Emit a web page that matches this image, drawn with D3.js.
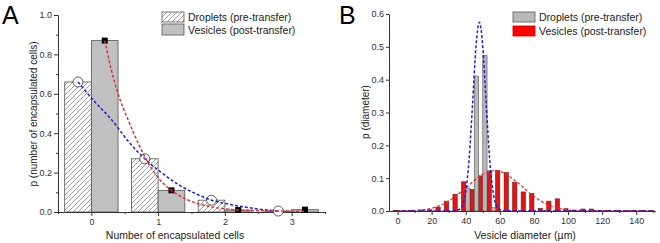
<!doctype html>
<html lang="en">
<head>
<meta charset="utf-8">
<title>encapsulation distributions</title>
<script src="https://cdn.jsdelivr.net/npm/d3@7/dist/d3.min.js"></script>
<style>
  body { margin: 0; background: #fff; }
  svg { font-family: "Liberation Sans", Arial, sans-serif; }
  .axis path, .axis line { stroke: #333; }
  .axis text { fill: #333; font-size: 9px; }
</style>
</head>
<body>
<svg></svg>
<script>
// ---- panel A data ----
var cells = [0, 1, 2, 3];
var dropletsA = [0.66, 0.27, 0.06, 0.005];
var vesiclesA = [0.87, 0.11, 0.01, 0.012];
// fitted curves
var blueFitAx = [-0.2, 0.05, 0.3, 0.55, 0.8, 1.05, 1.3, 1.55, 1.8, 2.05, 2.3, 2.55, 2.8];
var blueFitAy = [0.66, 0.56, 0.47, 0.36, 0.27, 0.2, 0.14, 0.095, 0.06, 0.04, 0.025, 0.013, 0.005];
var redFitAx = [0.2, 0.3, 0.4, 0.56, 0.7, 0.85, 1.0, 1.2, 1.4, 1.6, 1.8, 2.0, 2.2, 2.6, 3.2];
var redFitAy = [0.87, 0.72, 0.6, 0.46, 0.35, 0.25, 0.175, 0.11, 0.068, 0.042, 0.026, 0.016, 0.01, 0.006, 0.004];

// ---- panel B data ----
var diam = [0, 5, 10, 15, 20, 25, 30, 35, 40, 45, 50, 55, 60, 65, 70, 75, 80, 85, 90, 95,
            100, 105, 110, 115, 120, 125, 130, 135, 140, 145, 150];
var vesiclesB = [0.002, 0.002, 0.002, 0.003, 0.004, 0.012, 0.03, 0.051, 0.089, 0.066, 0.107, 0.122, 0.123, 0.117, 0.087,
                 0.058, 0.053, 0.008, 0.03, 0.037, 0.007, 0.003, 0.006, 0.006, 0.002, 0.002, 0.002, 0.002, 0.002, 0.002, 0.002];
var dropletsB = [0, 0, 0, 0, 0, 0, 0, 0, 0.07, 0.411, 0.473, 0.01, 0, 0, 0,
                 0, 0, 0, 0, 0, 0, 0, 0, 0, 0, 0, 0, 0, 0, 0, 0];
var blueFitBx = [0, 20, 30, 34, 36, 38, 40, 42, 44, 46, 48, 50, 52, 54, 56, 58, 60, 62, 70, 100, 150];
var blueFitBy = [0, 0, 0, 0.001, 0.004, 0.016, 0.059, 0.16, 0.325, 0.5, 0.575, 0.5, 0.325, 0.16, 0.059, 0.016, 0.004, 0.001, 0, 0, 0];
var redFitBx = [0, 10, 20, 30, 40, 50, 57, 60, 70, 80, 90, 100, 110, 120, 130, 150];
var redFitBy = [0.0002, 0.0017, 0.0085, 0.03, 0.07, 0.112, 0.123, 0.121, 0.088, 0.044, 0.015, 0.003, 0.0005, 0, 0, 0];

var legendLabels = ["Droplets (pre-transfer)", "Vesicles (post-transfer)"];

var width = 660, height = 243;
var svg = d3.select('svg').attr('width', width).attr('height', height);

// hatch pattern for droplet bars
svg.append('defs').append('pattern')
    .attr('id', 'hatch')
    .attr('patternUnits', 'userSpaceOnUse')
    .attr('width', 5).attr('height', 5)
    .append('path')
    .attr('d', 'M-1,1 l2,-2 M0,5 l5,-5 M4,6 l2,-2')
    .attr('stroke', '#777').attr('stroke-width', 0.7);

// =================== panel A ===================
var xA = d3.scaleLinear().domain([-0.5, 3.5]).range([58, 325]);
var yA = d3.scaleLinear().domain([0, 1]).range([212, 15]);
var gA = svg.append('g');

gA.selectAll('rect.drop').data(cells).enter().append('rect')
    .attr('x', function (d) { return xA(d - 0.4); })
    .attr('y', function (d, i) { return yA(dropletsA[i]); })
    .attr('width', xA(0.4) - xA(0))
    .attr('height', function (d, i) { return yA(0) - yA(dropletsA[i]); })
    .attr('fill', 'url(#hatch)').attr('stroke', '#555').attr('stroke-width', 0.8);

gA.selectAll('rect.ves').data(cells).enter().append('rect')
    .attr('x', function (d) { return xA(d); })
    .attr('y', function (d, i) { return yA(vesiclesA[i]); })
    .attr('width', xA(0.4) - xA(0))
    .attr('height', function (d, i) { return yA(0) - yA(vesiclesA[i]); })
    .attr('fill', '#c0c0c0').attr('stroke', '#555').attr('stroke-width', 0.8);

// axes A
gA.append('g').attr('class', 'axis').attr('transform', 'translate(0,' + yA(0) + ')')
    .call(d3.axisBottom(xA).tickValues([-0.5, 0.5, 1.5, 2.5, 3.5]).tickSize(2).tickSizeOuter(0).tickFormat(''));
gA.append('g').attr('class', 'axis').attr('transform', 'translate(0,' + yA(0) + ')')
    .call(d3.axisBottom(xA).tickValues(cells).tickSize(4).tickSizeOuter(0).tickPadding(3).tickFormat(d3.format('d')));
gA.append('g').attr('class', 'axis').attr('transform', 'translate(' + xA(-0.5) + ',0)')
    .call(d3.axisLeft(yA).tickValues([0.1, 0.3, 0.5, 0.7, 0.9]).tickSize(2).tickSizeOuter(0).tickFormat(''));
gA.append('g').attr('class', 'axis').attr('transform', 'translate(' + xA(-0.5) + ',0)')
    .call(d3.axisLeft(yA).ticks(5).tickSize(4).tickSizeOuter(0).tickPadding(2).tickFormat(d3.format('.1f')));

// markers A
gA.selectAll('circle.drop').data(cells).enter().append('circle')
    .attr('cx', function (d) { return xA(d - 0.2); })
    .attr('cy', function (d, i) { return yA(dropletsA[i]); })
    .attr('r', 5).attr('fill', '#fff').attr('stroke', '#333').attr('stroke-width', 0.8);
gA.selectAll('rect.sq').data(cells).enter().append('rect')
    .attr('x', function (d) { return xA(d + 0.2) - 3; })
    .attr('y', function (d, i) { return yA(vesiclesA[i]) - 3; })
    .attr('width', 6).attr('height', 6).attr('fill', '#000');

// fitted curves A
var lineA = d3.line().x(function (d) { return xA(d[0]); }).y(function (d) { return yA(d[1]); })
    .curve(d3.curveMonotoneX);
gA.append('path').datum(d3.zip(blueFitAx, blueFitAy)).attr('d', lineA)
    .attr('fill', 'none').attr('stroke', '#2020d8').attr('stroke-width', 1.5).attr('stroke-dasharray', '3,2');
gA.append('path').datum(d3.zip(redFitAx, redFitAy)).attr('d', lineA)
    .attr('fill', 'none').attr('stroke', '#e53030').attr('stroke-width', 1.5).attr('stroke-dasharray', '3,2');

// labels A
gA.append('text').attr('x', 2).attr('y', 24).attr('font-size', 25).text('A');
gA.append('text').attr('transform', 'translate(37,114) rotate(-90)')
    .attr('text-anchor', 'middle').attr('font-size', 10).attr('fill', '#222')
    .text('p (number of encapsulated cells)');
gA.append('text').attr('x', 175).attr('y', 239).attr('text-anchor', 'middle')
    .attr('font-size', 10.5).attr('fill', '#222').text('Number of encapsulated cells');

// legend A
var legA = gA.append('g').attr('transform', 'translate(162,12)');
legA.append('rect').attr('width', 22).attr('height', 10).attr('fill', 'url(#hatch)').attr('stroke', '#555').attr('stroke-width', 0.8);
legA.append('rect').attr('y', 12).attr('width', 22).attr('height', 11).attr('fill', '#c0c0c0').attr('stroke', '#555').attr('stroke-width', 0.8);
legA.selectAll('text').data(legendLabels).enter().append('text')
    .attr('x', 26).attr('y', function (d, i) { return 9 + i * 13; })
    .attr('font-size', 10.5).attr('fill', '#222').text(function (d) { return d; });

// =================== panel B ===================
var xB = d3.scaleLinear().domain([-5, 151]).range([389, 655]);
var yB = d3.scaleLinear().domain([0, 0.6]).range([211, 14]);
var gB = svg.append('g');
var bw = xB(2.5) - xB(0);

gB.selectAll('rect.ves').data(diam).enter().append('rect')
    .attr('x', function (d) { return xB(d - 2.5); })
    .attr('y', function (d, i) { return yB(vesiclesB[i]); })
    .attr('width', bw)
    .attr('height', function (d, i) { return yB(0) - yB(vesiclesB[i]); })
    .attr('fill', '#dd1515').attr('stroke', '#8a0a0a').attr('stroke-width', 0.6);
gB.selectAll('rect.drop').data(diam.filter(function (d, i) { return dropletsB[i] > 0; })).enter().append('rect')
    .attr('x', function (d) { return xB(d); })
    .attr('y', function (d) { return yB(dropletsB[diam.indexOf(d)]); })
    .attr('width', bw)
    .attr('height', function (d) { return yB(0) - yB(dropletsB[diam.indexOf(d)]); })
    .attr('fill', '#b8b8b8').attr('stroke', '#555').attr('stroke-width', 0.6);

// fitted curves B
var lineB = d3.line().x(function (d) { return xB(d[0]); }).y(function (d) { return yB(d[1]); })
    .curve(d3.curveMonotoneX);
gB.append('path').datum(d3.zip(redFitBx, redFitBy)).attr('d', lineB)
    .attr('fill', 'none').attr('stroke', '#e53030').attr('stroke-width', 1.3).attr('stroke-dasharray', '3,2');
gB.append('path').datum(d3.zip(blueFitBx, blueFitBy)).attr('d', lineB)
    .attr('fill', 'none').attr('stroke', '#2020d8').attr('stroke-width', 1.5).attr('stroke-dasharray', '3,2');

// axes B
gB.append('g').attr('class', 'axis').attr('transform', 'translate(0,' + yB(0) + ')')
    .call(d3.axisBottom(xB).tickValues(d3.range(10, 151, 20)).tickSize(2).tickSizeOuter(0).tickFormat(''));
gB.append('g').attr('class', 'axis').attr('transform', 'translate(0,' + yB(0) + ')')
    .call(d3.axisBottom(xB).tickValues(d3.range(0, 141, 20)).tickSize(4).tickSizeOuter(0).tickPadding(3));
gB.append('g').attr('class', 'axis').attr('transform', 'translate(' + xB(-5) + ',0)')
    .call(d3.axisLeft(yB).ticks(6).tickSize(3).tickSizeOuter(0).tickPadding(2).tickFormat(d3.format('.1f')));

// labels B
gB.append('text').attr('x', 339).attr('y', 24).attr('font-size', 25).text('B');
gB.append('text').attr('transform', 'translate(369,112) rotate(-90)')
    .attr('text-anchor', 'middle').attr('font-size', 10).attr('fill', '#222')
    .text('p (diameter)');
gB.append('text').attr('x', 525).attr('y', 239).attr('text-anchor', 'middle')
    .attr('font-size', 10.5).attr('fill', '#222').text('Vesicle diameter (\u00b5m)');

// legend B
var legB = gB.append('g').attr('transform', 'translate(513,12)');
legB.append('rect').attr('width', 22).attr('height', 10).attr('fill', '#b8b8b8').attr('stroke', '#555').attr('stroke-width', 0.8);
legB.append('rect').attr('y', 14).attr('width', 22).attr('height', 10).attr('fill', '#ff0000').attr('stroke', '#cc0000').attr('stroke-width', 0.8);
legB.selectAll('text').data(legendLabels).enter().append('text')
    .attr('x', 26).attr('y', function (d, i) { return 9 + i * 14; })
    .attr('font-size', 10.5).attr('fill', '#222').text(function (d) { return d; });
</script>
</body>
</html>
